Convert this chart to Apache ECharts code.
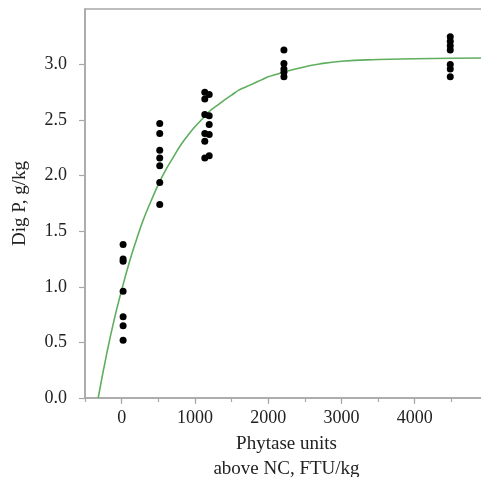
<!DOCTYPE html>
<html>
<head>
<meta charset="utf-8">
<script src="https://cdn.jsdelivr.net/npm/echarts@6/dist/echarts.min.js"></script>
<style>
html,body{margin:0;padding:0;background:#fff;}
#chart{width:481px;height:477px;}
</style>
</head>
<body>
<div id="chart"></div>
<script>
// Observed data points (dose, digestible P)
const dose0 = [20, 20, 20, 20, 20, 20, 20];
const val0 = [1.38, 1.25, 1.23, 0.96, 0.73, 0.65, 0.52];
const dose500 = [520, 520, 520, 520, 520, 520, 520];
const val500 = [2.47, 2.38, 2.23, 2.16, 2.09, 1.94, 1.74];
const dose1100 = [1135, 1195, 1135, 1135, 1195, 1195, 1135, 1195, 1135, 1135, 1195];
const val1100 = [2.75, 2.73, 2.69, 2.55, 2.54, 2.46, 2.38, 2.37, 2.31, 2.16, 2.18];
const dose2200 = [2215, 2215, 2215, 2215, 2215];
const val2200 = [3.13, 3.01, 2.96, 2.93, 2.89];
const dose4500 = [4485, 4485, 4485, 4485, 4485, 4485, 4485];
const val4500 = [3.25, 3.21, 3.17, 3.13, 3.00, 2.96, 2.89];

// Fitted curve
const curveX = [-320, -200, -100, 0, 100, 200, 300, 400, 500, 600, 700, 800, 900, 1000, 1100, 1200, 1300, 1400, 1500, 1600, 1700, 1800, 1900, 2000, 2100, 2200, 2400, 2700, 3000, 3500, 4000, 4500, 5000];
const curveY = [0, 0.41, 0.71, 0.97, 1.21, 1.42, 1.61, 1.77, 1.92, 2.05, 2.16, 2.27, 2.36, 2.44, 2.51, 2.58, 2.63, 2.68, 2.725, 2.77, 2.80, 2.83, 2.86, 2.89, 2.91, 2.93, 2.965, 3.005, 3.03, 3.045, 3.052, 3.057, 3.06];

const xMajor = [0, 1000, 2000, 3000, 4000];
const yTicks = [0, 0.5, 1.0, 1.5, 2.0, 2.5, 3.0];

function pairs(xs, ys) { return xs.map((x, i) => [x, ys[i]]); }
const points = [].concat(
  pairs(dose0, val0), pairs(dose500, val500), pairs(dose1100, val1100),
  pairs(dose2200, val2200), pairs(dose4500, val4500)
);

const axisGray = '#a8a8a8';
const font = '"Liberation Serif", "Times New Roman", serif';

const chart = echarts.init(document.getElementById('chart'), null, {renderer: 'canvas'});
chart.setOption({
  backgroundColor: '#fff',
  animation: false,
  grid: {left: 85, top: 9, right: -7, bottom: 79, containLabel: false, outerBoundsMode: 'none',
    show: true, borderColor: axisGray, borderWidth: 1.5, backgroundColor: 'transparent'},
  xAxis: [
    {
      type: 'value', min: -500, max: 5000, interval: 500, position: 'bottom',
      axisLine: {show: true, onZero: false, lineStyle: {color: axisGray, width: 1.5}},
      axisTick: {show: true, length: 4, lineStyle: {color: axisGray, width: 1.2}},
      axisLabel: {show: false},
      splitLine: {show: false}
    },
    {
      type: 'value', min: -500, max: 5000, position: 'bottom',
      name: 'Phytase units\nabove NC, FTU/kg', nameLocation: 'middle', nameGap: 28,
      nameTextStyle: {fontFamily: font, fontSize: 19, color: '#222', lineHeight: 25, verticalAlign: 'top'},
      axisLine: {show: false, onZero: false},
      axisTick: {show: true, length: 6, customValues: xMajor, lineStyle: {color: axisGray, width: 1.2}},
      axisLabel: {show: true, customValues: xMajor, margin: 11, fontFamily: font, fontSize: 18, color: '#222',
        formatter: v => String(v)},
      splitLine: {show: false}
    }
  ],
  yAxis: {
    type: 'value', min: 0, max: 3.5, interval: 0.5,
    name: 'Dig P, g/kg', nameLocation: 'middle', nameGap: 55, nameRotate: 90,
    nameTextStyle: {fontFamily: font, fontSize: 19, color: '#222'},
    axisLine: {show: true, onZero: false, lineStyle: {color: axisGray, width: 1.5}},
    axisTick: {show: true, length: 6, customValues: yTicks, lineStyle: {color: axisGray, width: 1.2}},
    axisLabel: {show: true, customValues: yTicks, margin: 18, fontFamily: font, fontSize: 18, color: '#222',
      formatter: v => (v >= 3.5 ? '' : v.toFixed(1))},
    splitLine: {show: false}
  },
  series: [
    {
      type: 'line', xAxisIndex: 0, data: pairs(curveX, curveY), smooth: 0.5, showSymbol: false,
      lineStyle: {color: '#5fae5f', width: 1.6}, clip: true, z: 2
    },
    {
      type: 'scatter', xAxisIndex: 0, data: points, symbol: 'circle', symbolSize: 7,
      itemStyle: {color: '#000', opacity: 1}, z: 3
    }
  ]
});
</script>
</body>
</html>
